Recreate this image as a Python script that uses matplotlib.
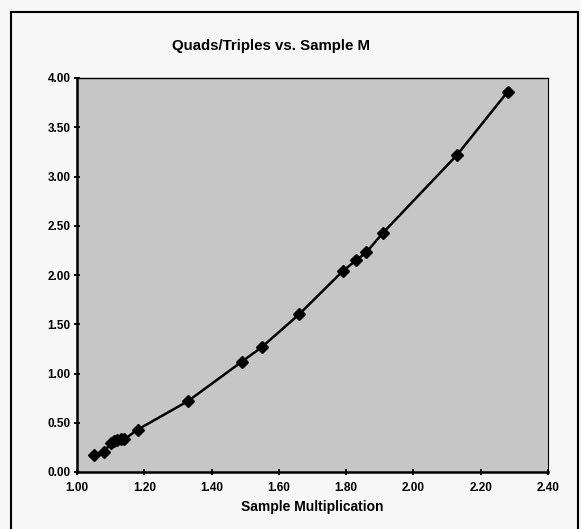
import matplotlib
matplotlib.use("Agg")
import matplotlib.pyplot as plt
from matplotlib.patches import Rectangle

plt.rcParams['font.family'] = ['Liberation Sans', 'DejaVu Sans']
plt.rcParams['font.weight'] = 'bold'

# sample multiplication vs quads/triples ratio
mult = [1.05, 1.08, 1.10, 1.11, 1.12, 1.13, 1.14, 1.18, 1.33, 1.49, 1.55, 1.66,
        1.79, 1.83, 1.86, 1.91, 2.13, 2.28]
ratio = [0.17, 0.20, 0.29, 0.31, 0.32, 0.33, 0.33, 0.43, 0.72, 1.12, 1.27, 1.60,
         2.04, 2.15, 2.23, 2.43, 3.22, 3.86]

xticks = [1.0, 1.2, 1.4, 1.6, 1.8, 2.0, 2.2, 2.4]
yticks = [0.0, 0.5, 1.0, 1.5, 2.0, 2.5, 3.0, 3.5, 4.0]

fig = plt.figure(figsize=(5.81, 5.29), dpi=100)
fig.patch.set_facecolor('#f7f7f7')
ax = fig.add_axes([77 / 581, 57 / 529, 471 / 581, 394 / 529])
ax.set_facecolor('#c6c6c6')

ax.plot(mult, ratio, '-', c='black', lw=1.8)
ax.plot(mult, ratio, 'D', c='black', ms=6.5)

ax.set_xlim(1.0, 2.4)
ax.set_ylim(0.0, 4.0)
ax.set_xticks(xticks)
ax.set_yticks(yticks)
ax.set_xticklabels(['%.2f' % v for v in xticks], fontsize=8.5, fontweight='bold')
ax.set_yticklabels(['%.2f' % v for v in yticks], fontsize=8.5, fontweight='bold')
ax.tick_params(direction='inout', length=5, width=1.3, pad=2)
ax.tick_params(axis='x', pad=5)

for s in ['left', 'bottom']:
    ax.spines[s].set_linewidth(1.8)
ax.spines['top'].set_linewidth(1.0)
ax.spines['right'].set_linewidth(0.8)

ax.set_xlabel('Sample Multiplication', fontsize=10, fontweight='bold', labelpad=4)
fig.text(271 / 581, 1 - 46 / 529, 'Quads/Triples vs. Sample M', ha='center', va='center',
         fontsize=10.8, fontweight='bold')

# outer chart frame
fig.patches.append(Rectangle((11 / 581, -0.05), 567 / 581, 1 - 12 / 529 + 0.05,
                             transform=fig.transFigure, fill=False, lw=1.5,
                             ec='black'))

fig.savefig('out.png', dpi=100, facecolor=fig.get_facecolor())
